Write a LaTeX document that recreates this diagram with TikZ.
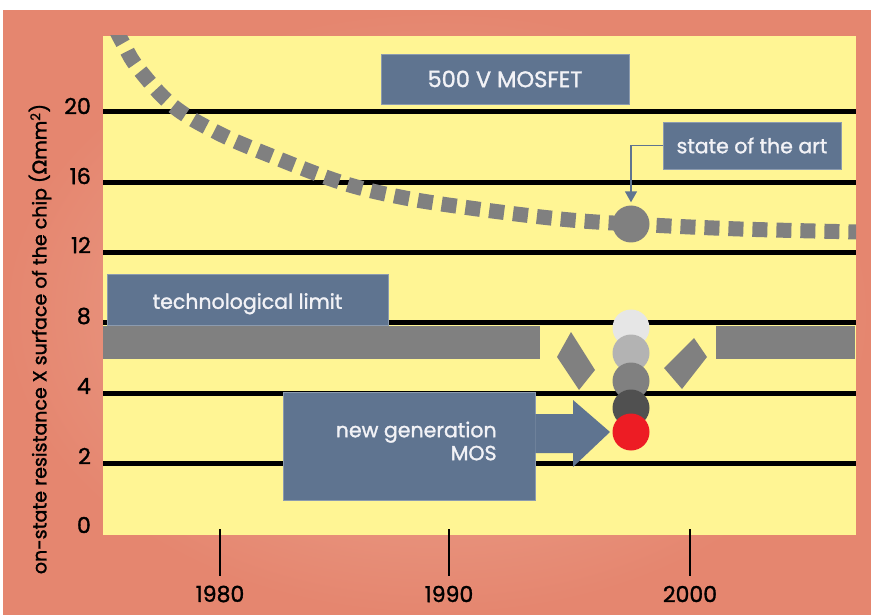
\documentclass[tikz,border=0pt]{standalone}
\usepackage{fontspec}
\setmainfont{Poppins}[UprightFeatures={FakeBold=1.4}]
\newfontfamily\dejavu{DejaVu Sans}[FakeBold=1.4]
\usetikzlibrary{arrows.meta}
\definecolor{salmon}{RGB}{229,134,111}
\definecolor{salmonlight}{RGB}{237,172,152}
\definecolor{plotyellow}{RGB}{255,245,148}
\definecolor{slate}{RGB}{95,116,144}
\definecolor{slateedge}{RGB}{140,155,175}
\definecolor{midgray}{RGB}{128,128,128}
\definecolor{boxtextcol}{RGB}{242,242,246}
\definecolor{dotred}{RGB}{237,28,36}
\tikzset{
  gridline/.style={black, line width=5pt},
  tickline/.style={black, line width=2.5pt},
  ticklabel/.style={font=\fontsize{22}{26}\selectfont, text=black, inner sep=0pt},
  axistitle/.style={font=\fontsize{19}{22}\selectfont, text=black, inner sep=0pt},
  labelbox/.style={fill=slate, draw=slateedge, line width=0.8pt, text=boxtextcol,
    font=\fontsize{20.5}{23}\selectfont, inner sep=0pt},
  dot/.style={circle, inner sep=0pt, minimum size=37pt},
  dashcurve/.style={midgray, line width=15pt, dash pattern=on 15pt off 9pt, line cap=butt},
  conn/.style={slate, line width=1.5pt, -{Triangle[width=12pt,length=11pt]}}
}
\begin{document}
\begin{tikzpicture}[x=1pt,y=-1pt]
\useasboundingbox (0,0) rectangle (871,615);
% background
\shade[inner color=salmonlight, outer color=salmon] (3,11) rectangle (871,615);
\fill[plotyellow] (103,36) rectangle (856,535);
% grid lines
\foreach \yy in {112,183,252,322,393,463}
  \draw[gridline] (103,\yy) -- (856,\yy);
% y tick labels
\node[ticklabel, anchor=east] (y20) at (91,106) {20};
\node[ticklabel, anchor=east] (y16) at (91,176) {16};
\node[ticklabel, anchor=east] (y12) at (91,245) {12};
\node[ticklabel, anchor=east] (y8) at (91,316) {8};
\node[ticklabel, anchor=east] (y4) at (91,386) {4};
\node[ticklabel, anchor=east] (y2) at (91,456) {2};
\node[ticklabel, anchor=east] (y0) at (91,525) {0};
% x ticks
\foreach \xx in {220,449,690}
  \draw[tickline] (\xx,529) -- (\xx,576);
\node[ticklabel] (x1980) at (220,594) {1980};
\node[ticklabel] (x1990) at (449,594) {1990};
\node[ticklabel] (x2000) at (690,594) {2000};
% axis title
\node[axistitle, rotate=90] (ylabel) at (40,339)
  {on-state resistance X surface of the chip ({\dejavu Ω}mm\textsuperscript{2})};
% dashed curve
\begin{scope}
  \clip (103,36) rectangle (856,535);
  \draw[dashcurve] plot[smooth, tension=0.6] coordinates
    {(116,30) (124,45) (138,68) (173,106) (218,133) (269,155) (340,182) (400,197) (470,208) (560,219) (631,224) (740,229) (860,232)};
\end{scope}
\node[dot, fill=midgray] (sotadot) at (631,224) {};
% state of the art
\node[labelbox, minimum width=178pt, minimum height=47pt] (sota) at (752,145.5) {state of the art};
\draw[conn, shorten >=3pt] (sota.west) -| (sotadot.north);
% 500 V MOSFET
\node[labelbox, minimum width=248pt, minimum height=50pt, font=\fontsize{22.5}{25}\selectfont] (title) at (505,79) {500 V MOSFET};
% technological limit
\fill[midgray] (103,326) rectangle (540,359);
\fill[midgray] (716,326) rectangle (855,359);
\node[labelbox, minimum width=281pt, minimum height=51pt, text depth=0pt] (techlimit) at (247.5,299.5) {\raisebox{-3pt}{technological limit}};
% diamonds
\fill[midgray] (571,332) -- (595,370) -- (579,390) -- (557,357) -- cycle;
\fill[midgray] (694,338) -- (707,357) -- (682,389) -- (664,368) -- cycle;
% stacked dots
\node[dot, fill={rgb,255:red,230;green,230;blue,230}] (d1) at (631,328) {};
\node[dot, fill={rgb,255:red,179;green,179;blue,179}] (d2) at (631,353) {};
\node[dot, fill=midgray] (d3) at (631,381) {};
\node[dot, fill={rgb,255:red,80;green,80;blue,80}] (d4) at (631,408) {};
\node[dot, fill=dotred] (d5) at (631,432) {};
% new generation
\node[labelbox, minimum width=252pt, minimum height=108pt] (ngbox) at (409,446) {};
\fill[slate] (ngbox.east |- 0,414) -- (573,414) -- (573,400) -- (610,432) -- (573,467) -- (573,453) -- (ngbox.east |- 0,453) -- cycle;
\node[labelbox, draw=none, fill=none, align=right, anchor=east] (ngtext) at (497,441) {new generation\\MOS};
\end{tikzpicture}
\end{document}
